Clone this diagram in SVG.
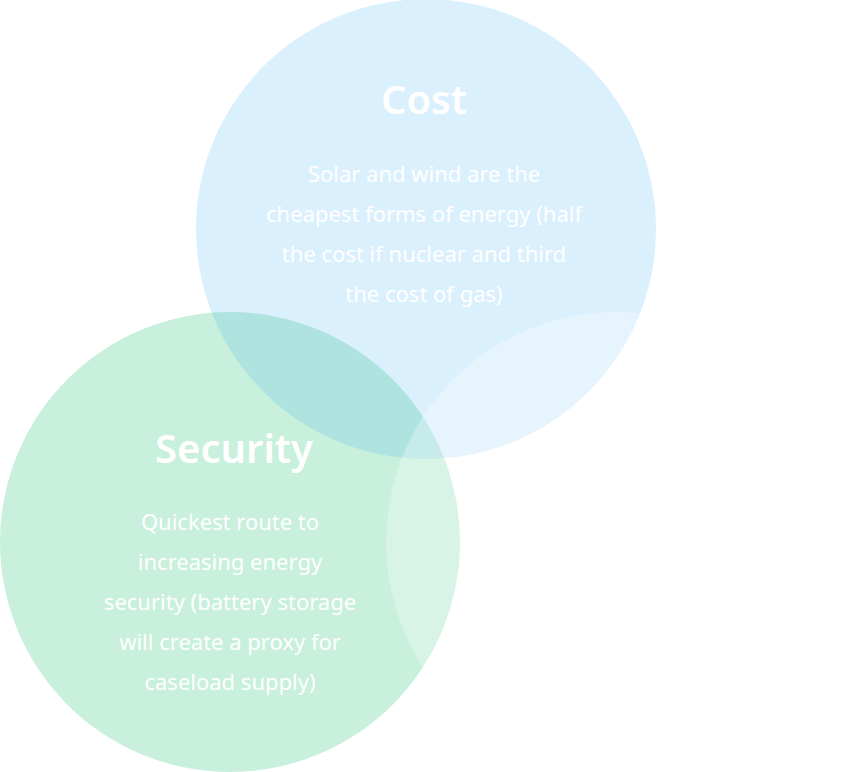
<svg xmlns="http://www.w3.org/2000/svg" width="846" height="772" viewBox="0 0 846 772">
<style>
.t{font-family:"Noto Sans","Open Sans",sans-serif;fill:#fff;text-anchor:middle}
.h{font-size:40px;font-weight:600}
.b{font-size:22px}
</style>
<rect width="846" height="772" fill="#fff"/>
<g id="security"><circle cx="230" cy="542" r="230" fill="#c8f0dc"/></g>
<g id="cost"><circle cx="426" cy="229" r="230" fill="#37acf4" fill-opacity="0.18"/></g>
<g id="third"><circle cx="616" cy="542" r="230" fill="#fff" fill-opacity="0.3"/></g>
<g id="cost-text" class="t">
<text class="h" x="424" y="114">Cost</text>
<text class="b" x="424" y="182">Solar and wind are the</text>
<text class="b" x="424" y="222">cheapest forms of energy (half</text>
<text class="b" x="424" y="262">the cost if nuclear and third</text>
<text class="b" x="424" y="302">the cost of gas)</text>
</g>
<g id="security-text" class="t">
<text class="h" x="234" y="463">Security</text>
<text class="b" x="230" y="530">Quickest route to</text>
<text class="b" x="230" y="570">increasing energy</text>
<text class="b" x="230" y="610">security (battery storage</text>
<text class="b" x="230" y="650">will create a proxy for</text>
<text class="b" x="230" y="690">caseload supply)</text>
</g>
<g id="connectors"></g>
</svg>
